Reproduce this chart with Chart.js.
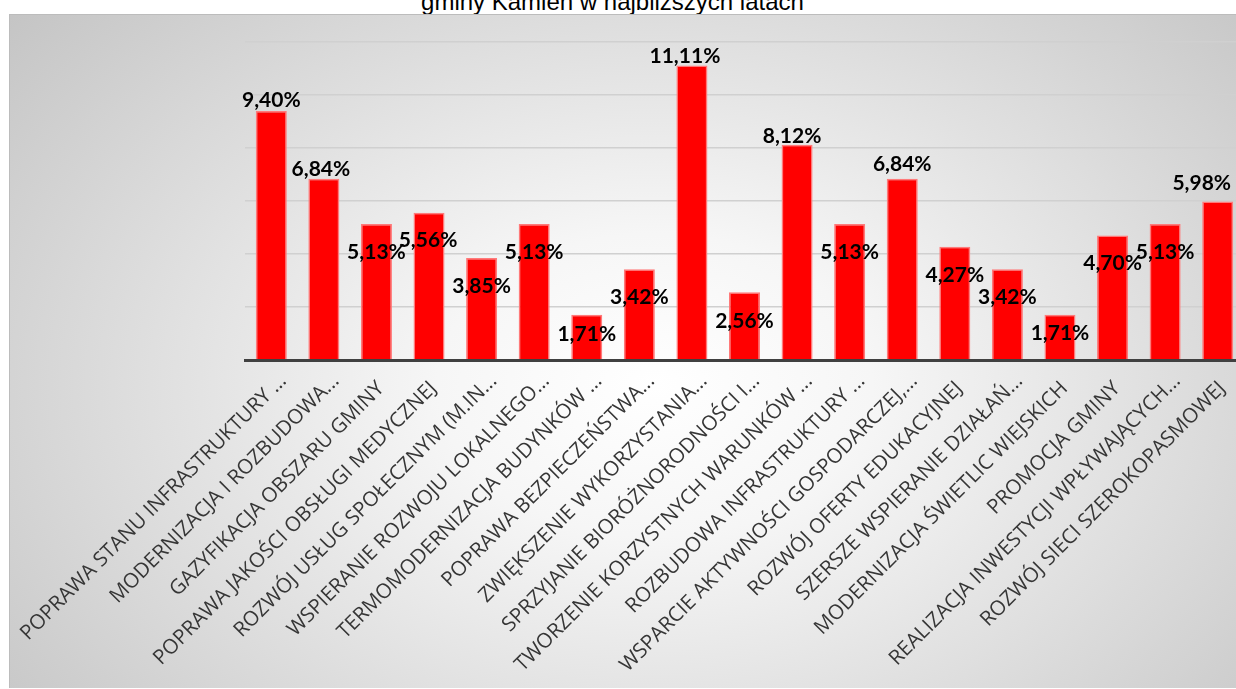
<!DOCTYPE html>
<html lang="pl">
<head>
<meta charset="utf-8">
<title>Kierunki rozwoju gminy Kamień</title>
<script src="https://cdn.jsdelivr.net/npm/chart.js@4/dist/chart.umd.min.js"></script>
<style>
html, body { margin: 0; padding: 0; background: #fff; width: 1236px; height: 689px; overflow: hidden; position: relative; }
#title {
  position: absolute; left: 0; top: -10px; width: 1225px;
  text-align: center; white-space: nowrap;
  font: 24px/24px "Liberation Sans", Arial, sans-serif; color: #000;
}
#box {
  position: absolute; left: 9px; top: 14px; width: 1240px; height: 673px;
  border-top: 1px solid #bcbcbc; border-left: 1px solid #bcbcbc;
  background: radial-gradient(ellipse 70% 90% at 52% 55%, #ffffff 0%, #f6f6f6 25%, #c2c2c2 100%);
}
#box canvas { position: absolute; left: 0; top: 0; }
</style>
</head>
<body>
<div id="title">gminy Kamień w najbliższych latach</div>
<div id="box"><canvas id="chart" width="1240" height="673"></canvas></div>
<script>
// categories (as printed on the axis, truncated like in the source)
const categories = [
  'POPRAWA STANU INFRASTRUKTURY ...',
  'MODERNIZACJA I ROZBUDOWA...',
  'GAZYFIKACJA OBSZARU GMINY',
  'POPRAWA JAKOŚCI OBSŁUGI MEDYCZNEJ',
  'ROZWÓJ USŁUG SPOŁECZNYM (M.IN...',
  'WSPIERANIE ROZWOJU LOKALNEGO...',
  'TERMOMODERNIZACJA BUDYNKÓW ...',
  'POPRAWA BEZPIECZEŃSTWA...',
  'ZWIĘKSZENIE WYKORZYSTANIA...',
  'SPRZYJANIE BIORÓŻNORODNOŚCI I...',
  'TWORZENIE KORZYSTNYCH WARUNKÓW ...',
  'ROZBUDOWA INFRASTRUKTURY ...',
  'WSPARCIE AKTYWNOŚCI GOSPODARCZEJ,...',
  'ROZWÓJ OFERTY EDUKACYJNEJ',
  'SZERSZE WSPIERANIE DZIAŁAŃ...',
  'MODERNIZACJA ŚWIETLIC WIEJSKICH',
  'PROMOCJA GMINY',
  'REALIZACJA INWESTYCJI WPŁYWAJĄCYCH...',
  'ROZWÓJ SIECI SZEROKOPASMOWEJ'
];

// share of answers, %
const shares = [9.40, 6.84, 5.13, 5.56, 3.85, 5.13, 1.71, 3.42, 11.11, 2.56,
                8.12, 5.13, 6.84, 4.27, 3.42, 1.71, 4.70, 5.13, 5.98];

// value axis (no tick labels shown, only gridlines)
const yMin = 0;
const yMax = 12;
const yStep = 2;

// where each value label sits relative to the top of its bar (px)
const labelDx = [0, -3, 0, -1, 0, 0, 0, 0, -7, 0, -5, 0, 0, 0, 0, 0, 0, 0, -16];
const labelDy = [-11, -10, 28, 28, 28, 28, 20, 28, -9, 29, -9, 28, -15, 28, 28, 19, 28, 28, -18];

const fmt = v => v.toFixed(2).replace('.', ',') + '%';

// in the source the "..." of a cut label hangs past the tick,
// so full labels get a little tail to line up the same way
const axisLabel = s => s.endsWith('...') ? s : s + '  ';

const valueLabels = {
  id: 'valueLabels',
  afterDatasetsDraw(chart) {
    const ctx = chart.ctx;
    const meta = chart.getDatasetMeta(0);
    ctx.save();
    ctx.font = 'bold 21px Lato, "Open Sans", sans-serif';
    ctx.fillStyle = '#000';
    ctx.textAlign = 'center';
    ctx.textBaseline = 'middle';
    meta.data.forEach((bar, i) => {
      ctx.fillText(fmt(shares[i]), bar.x + labelDx[i], bar.y + labelDy[i]);
    });
    ctx.restore();
  }
};

function draw() {
  const canvas = document.getElementById('chart');
  const ctx = canvas.getContext('2d');
  new Chart(ctx, {
    type: 'bar',
    data: {
      labels: categories.map(axisLabel),
      datasets: [{
        label: 'Odsetek wskazań',
        data: shares,
        backgroundColor: '#ff0000',
        borderColor: '#ff7a7a',
        borderWidth: 1.5,
        barPercentage: 0.59,
        categoryPercentage: 1
      }]
    },
    options: {
      responsive: false,
      animation: false,
      layout: { padding: { top: 27, right: 6, left: 0, bottom: 0 } },
      plugins: {
        legend: { display: false },
        title: { display: false },
        tooltip: { enabled: false }
      },
      scales: {
        x: {
          grid: { display: false, drawTicks: false },
          border: { display: true, color: '#404040', width: 3, z: 1 },
          ticks: {
            autoSkip: false,
            minRotation: 45,
            maxRotation: 45,
            padding: 9,
            labelOffset: 12,
            color: '#363636',
            font: { family: '"Open Sans"', size: 20.5 }
          },
          afterFit(scale) {
            scale.height = 328;
            scale.paddingLeft = 0;
            scale.paddingRight = 0;
          }
        },
        y: {
          min: yMin,
          max: yMax,
          ticks: { display: false, stepSize: yStep },
          grid: { color: '#d0d0d0', lineWidth: 1.5, drawTicks: false },
          border: { display: false },
          afterFit(scale) {
            scale.width = 235;
          }
        }
      }
    },
    plugins: [valueLabels]
  });
}

Promise.all([
  document.fonts.load('bold 21px Lato'),
  document.fonts.load('21px "Open Sans"')
]).then(draw, draw);
</script>
</body>
</html>
